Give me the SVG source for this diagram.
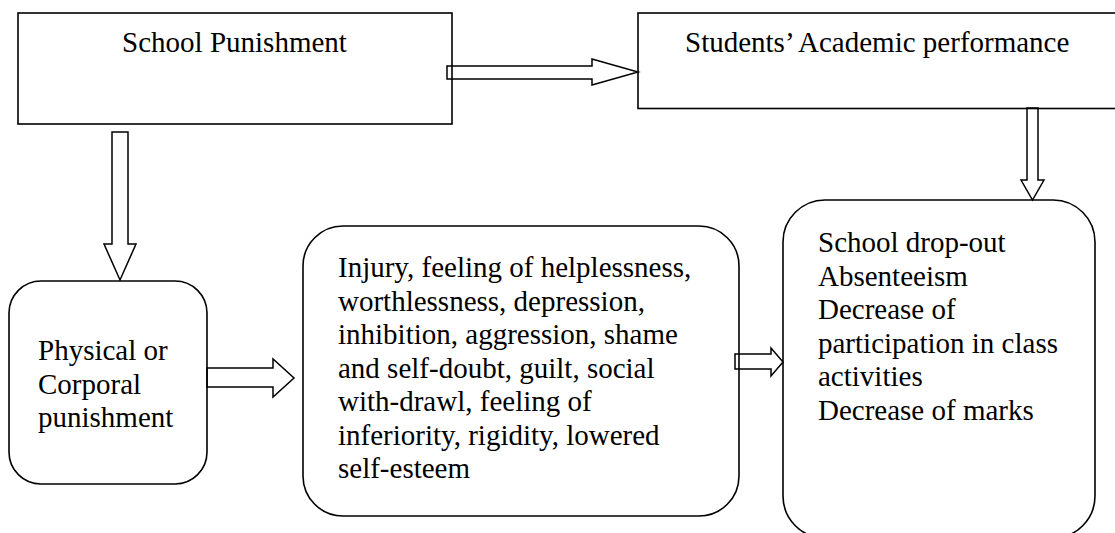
<svg xmlns="http://www.w3.org/2000/svg" width="1115" height="533" viewBox="0 0 1115 533">
<style>
  .box{fill:none;stroke:#000;stroke-width:1.6}
  .arr{fill:#fff;stroke:#000;stroke-width:1.5;stroke-linejoin:miter}
  text{font-family:'Liberation Serif','Times New Roman','DejaVu Serif',serif;font-size:29px;fill:#000}
</style>
<rect x="0" y="0" width="1115" height="533" fill="#fff"/>
<g id="connectors">
  <polygon class="arr" points="447,66 592,66 592,59 638,72 592,85 592,79 447,79"/>
  <polygon class="arr" points="112,132 128,132 128,244 136,244 120,280 104,244 112,244"/>
  <polygon class="arr" points="1027,108 1038,108 1038,180 1044,180 1032.5,200 1021,180 1027,180"/>
  <polygon class="arr" points="207,368 273,368 273,359 294,378 273,397 273,387 207,387"/>
  <polygon class="arr" points="735,354 771,354 771,348 783,362 771,376 771,369 735,369"/>
</g>
<g id="school-punishment" font-family="Liberation Serif, serif">
  <rect class="box" x="18" y="13" width="434" height="111"/>
  <text x="234.5" y="52" text-anchor="middle">School Punishment</text>
</g>
<g id="academic-performance" font-family="Liberation Serif, serif">
  <rect class="box" x="638" y="13" width="490" height="95.5"/>
  <text x="685" y="52">Students’ Academic performance</text>
</g>
<g id="physical-punishment" font-family="Liberation Serif, serif">
  <rect class="box" x="9" y="281" width="198" height="203" rx="32" ry="32"/>
  <text x="38" y="360">Physical or</text>
  <text x="38" y="393.5">Corporal</text>
  <text x="38" y="427">punishment</text>
</g>
<g id="effects" font-family="Liberation Serif, serif">
  <rect class="box" x="303" y="226" width="436" height="290" rx="40" ry="40"/>
  <text x="338" y="277">Injury, feeling of helplessness,</text>
  <text x="338" y="310.5">worthlessness, depression,</text>
  <text x="338" y="344">inhibition, aggression, shame</text>
  <text x="338" y="377.5">and self-doubt, guilt, social</text>
  <text x="338" y="411">with-drawl, feeling of</text>
  <text x="338" y="444.5">inferiority, rigidity, lowered</text>
  <text x="338" y="478">self-esteem</text>
</g>
<g id="outcomes" font-family="Liberation Serif, serif">
  <rect class="box" x="783" y="200" width="312" height="338" rx="42" ry="42"/>
  <text x="818" y="252">School drop-out</text>
  <text x="818" y="285.5">Absenteeism</text>
  <text x="818" y="319">Decrease of</text>
  <text x="818" y="352.5">participation in class</text>
  <text x="818" y="386">activities</text>
  <text x="818" y="419.5">Decrease of marks</text>
</g>
</svg>
